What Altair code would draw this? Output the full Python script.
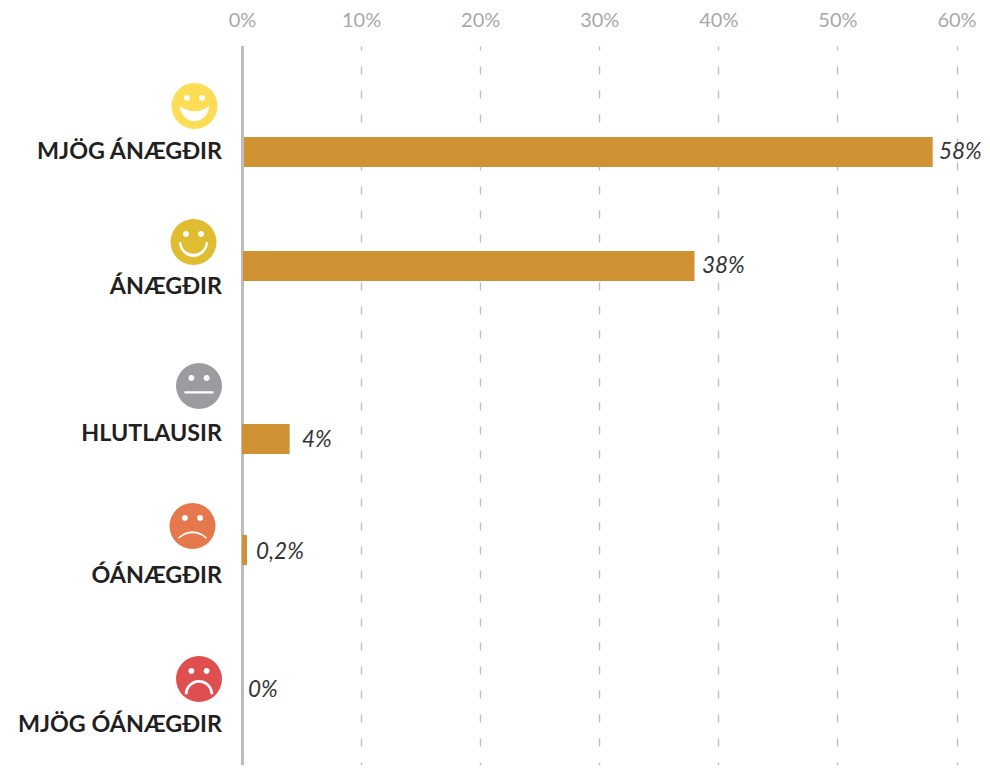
import altair as alt
import pandas as pd

categories = ["MJÖG ÁNÆGÐIR", "ÁNÆGÐIR", "HLUTLAUSIR", "ÓÁNÆGÐIR", "MJÖG ÓÁNÆGÐIR"]
bar_values = [58, 38, 4, 0.42, 0]
bar_starts = [0.17, 0.08, 0, 0, 0]
value_labels = ["58%", "38%", "4%", "0,2%", "0%"]
face_colors = ["#fcdd55", "#dfbc30", "#9b9c9f", "#e6784d", "#e04f50"]
ticks = [0, 10, 20, 30, 40, 50, 60]

BAR = "#cf9132"
EYES = "M-.46,-.345a.13,.13 0 1 0 .26,0a.13,.13 0 1 0 -.26,0ZM.2,-.345a.13,.13 0 1 0 .26,0a.13,.13 0 1 0 -.26,0Z"
face_paths = [
    EYES + "M-.63,0Q0,.46 .63,0A.63,.66 0 0 1 -.63,0Z",
    EYES + "M-.63,0A.63,.65 0 0 0 .63,0L.53,0A.53,.51 0 0 1 -.53,0Z",
    EYES + "M-.63,.23L.63,.23L.63,.33L-.63,.33Z",
    EYES + "M-.63,.5Q0,-.05 .63,.5L.6,.55Q0,.08 -.6,.55Z",
    EYES + "M-.62,.66A.62,.62 0 0 1 .62,.66L.5,.66A.5,.5 0 0 0 -.5,.66Z",
]

df = pd.DataFrame({
    "row": list(range(len(categories))),
    "cat": categories,
    "value": bar_values,
    "start": bar_starts,
    "label": value_labels,
    "color": face_colors,
})

W, H = 714.5, 719
rows = list(range(5))
xdom = alt.Scale(domain=[0, 60], range=[0, W], nice=False, zero=False)


def yscale(pixels):
    return alt.Scale(domain=rows, range=[p - 46 for p in pixels], nice=False, zero=False, padding=0)


def xscale(pixels):
    return alt.Scale(domain=rows, range=[p - 242 for p in pixels], nice=False, zero=False, padding=0)


base = alt.Chart(df)

grid = base.mark_point(opacity=0).encode(
    x=alt.X("value:Q", scale=xdom, title=None, axis=alt.Axis(
        orient="top", values=ticks, domain=False, ticks=False, labelPadding=16,
        labelFlush=False, labelOverlap=False,
        labelExpr="datum.value + '%'", labelFont="Lato", labelFontSize=20,
        labelColor="#a8a8a8", grid=True, gridColor="#bdbdbd", gridWidth=1.4,
        gridDash=[8, 16], gridDashOffset=4)),
    y=alt.Y("row:Q", scale=alt.Scale(domain=[0, 4], range=[0, H], nice=False, zero=False), axis=None),
)

zero_rule = alt.Chart(pd.DataFrame({"zero": [0]})).mark_rule(color="#bdbdc1", strokeWidth=3).encode(
    x=alt.X("zero:Q", scale=xdom, axis=None),
    xOffset=alt.value(0.5),
)

bars = base.mark_bar(color=BAR, size=30, orient="horizontal").encode(
    x=alt.X("start:Q", scale=xdom, axis=None, stack=None),
    x2="value:Q",
    y=alt.Y("row:Q", scale=yscale([152, 266, 439, 550, 660]), axis=None),
)

value_text = base.mark_text(font="Lato", fontStyle="italic", fontSize=22.5, color="#333333",
                            align="left", baseline="alphabetic").encode(
    x=alt.X("row:Q", scale=xscale([939, 702, 302, 256, 248]), axis=None),
    y=alt.Y("row:Q", scale=yscale([159, 273, 447, 559, 697]), axis=None),
    text="label:N",
)

cat_text = base.mark_text(font="Lato", fontWeight="bold", fontSize=23.3, color="#231f20",
                          align="right", baseline="alphabetic").encode(
    x=alt.value(222 - 242),
    y=alt.Y("row:Q", scale=yscale([159, 294, 441, 583, 732]), axis=None),
    text="cat:N",
)

face_x = xscale([194.5, 193.5, 199, 192.5, 199])
face_y = yscale([106, 242, 386, 526, 679])

faces = base.mark_point(filled=True, size=2116, opacity=1, shape="circle").encode(
    x=alt.X("row:Q", scale=face_x, axis=None),
    y=alt.Y("row:Q", scale=face_y, axis=None),
    color=alt.Color("color:N", scale=None),
)

features = base.mark_point(filled=True, size=2116, opacity=1, color="#ffffff").encode(
    x=alt.X("row:Q", scale=face_x, axis=None),
    y=alt.Y("row:Q", scale=face_y, axis=None),
    shape=alt.Shape("cat:N", scale=alt.Scale(domain=categories, range=face_paths), legend=None),
)

chart = alt.layer(grid, zero_rule, bars, value_text, cat_text, faces, features).resolve_scale(
    x="independent", y="independent", shape="independent", color="independent"
).properties(
    width=W, height=H,
    padding={"left": 234, "top": 38, "right": 25, "bottom": 0},
    autosize=alt.AutoSizeParams(type="none"),
).configure_view(stroke=None)

chart.save("out.html", embed_options={"renderer": "svg", "actions": False})
